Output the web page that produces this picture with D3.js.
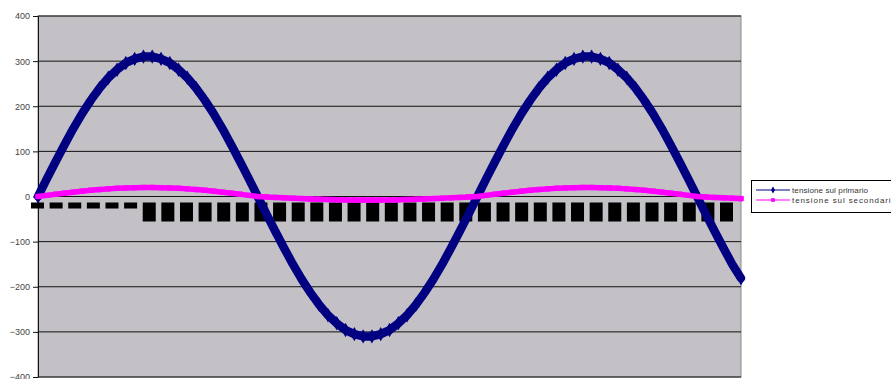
<!DOCTYPE html>
<html>
<head>
<meta charset="utf-8">
<script src="https://cdn.jsdelivr.net/npm/d3@7"></script>
<style>
  body { margin: 0; background: #fff; }
  svg { display: block; font-family: Arial, "Liberation Sans", sans-serif; }
</style>
</head>
<body>
<div id="plot"></div>
<script>
// sample index along the x axis (categories of the Excel line chart)
var samples = d3.range(81);

// tensione sul primario (V)
var primario = [0, 39, 77, 114, 150, 183, 213, 240, 263, 281, 296, 305, 310, 310, 305, 296, 281, 263, 240, 213,
  183, 150, 114, 77, 39, 0, -39, -77, -114, -150, -183, -213, -240, -263, -281, -296, -305, -310, -310, -305,
  -296, -281, -263, -240, -213, -183, -150, -114, -77, -39, 0, 39, 77, 114, 150, 183, 213, 240, 263, 281,
  296, 305, 310, 310, 305, 296, 281, 263, 240, 213, 183, 150, 114, 77, 39, 0, -39, -77, -114, -150, -181];

// tensione sul secondario (V)
var secondario = [0, 2.5, 5, 7.4, 9.6, 11.8, 13.7, 15.4, 16.9, 18.1, 19, 19.6, 20, 20, 19.6, 19, 18.1, 16.9, 15.4, 13.7,
  11.8, 9.6, 7.4, 5, 2.5, 0, -1, -2, -3, -3.9, -4.7, -5.5, -6.2, -6.8, -7.2, -7.6, -7.9, -8, -8, -7.9,
  -7.6, -7.2, -6.8, -6.2, -5.5, -4.7, -3.9, -3, -2, -1, 0, 2.5, 5, 7.4, 9.6, 11.8, 13.7, 15.4, 16.9, 18.1,
  19, 19.6, 20, 20, 19.6, 19, 18.1, 16.9, 15.4, 13.7, 11.8, 9.6, 7.4, 5, 2.5, 0, -1, -2, -3, -3.9, -4.7];

var yTicks = [400, 300, 200, 100, 0, -100, -200, -300, -400];

// the category labels come out as unreadable black blobs in the picture
var xLabelCount = 38;
var shortLabels = 6;

var seriesNames = ["tensione sul primario", "tensione sul secondario"];
var seriesColors = ["#000080", "#ff00ff"];

var width = 891, height = 379;
var plot = { left: 38, right: 741, top: 16, bottom: 377 };

var svg = d3.select("#plot").append("svg")
    .attr("width", width)
    .attr("height", height);

var x = d3.scaleLinear().domain([0, 80]).range([plot.left, plot.right]);
var y = d3.scaleLinear().domain([-400, 400]).range([plot.bottom, plot.top]);
var xLab = d3.scaleLinear().domain([0, xLabelCount - 1]).range([37.5, 726.5]);

// plot area
svg.append("rect")
    .attr("x", plot.left).attr("y", plot.top)
    .attr("width", plot.right - plot.left).attr("height", plot.bottom - plot.top)
    .attr("fill", "#c3c1c5")
    .attr("stroke", "#8a8a8a");

// gridlines
svg.append("g").selectAll("line")
    .data(yTicks)
    .join("line")
    .attr("x1", plot.left).attr("x2", plot.right)
    .attr("y1", d => y(d)).attr("y2", d => y(d))
    .attr("stroke", "#111")
    .attr("stroke-width", 1);

// y axis
var yAxis = svg.append("g")
    .attr("transform", "translate(" + plot.left + ",0)")
    .call(d3.axisLeft(y).tickValues(yTicks).tickSize(5).tickPadding(3).tickSizeOuter(0));
yAxis.select(".domain").attr("stroke", "#111");
yAxis.selectAll(".tick line").attr("stroke", "#111");
yAxis.selectAll("text")
    .attr("font-size", "9px")
    .attr("fill", "#444")
    .attr("font-family", "Arial, 'Liberation Sans', sans-serif");

// x category labels (black blobs just under the zero line)
svg.append("g").selectAll("rect")
    .data(d3.range(xLabelCount))
    .join("rect")
    .attr("x", d => xLab(d) - 6.5)
    .attr("y", y(0) + 6)
    .attr("width", 13)
    .attr("height", d => d < shortLabels ? 6 : 19)
    .attr("fill", "#000");

var line = d3.line().x((d, i) => x(samples[i])).y(d => y(d));

var sets = [primario, secondario];
var widths = [8.5, 5.5];
sets.forEach(function (vals, k) {
  svg.append("path")
      .datum(vals)
      .attr("d", line)
      .attr("fill", "none")
      .attr("stroke", seriesColors[k])
      .attr("stroke-width", widths[k])
      .attr("stroke-linejoin", "round")
      .attr("stroke-linecap", "round");
  svg.append("g").selectAll("path")
      .data(vals)
      .join("path")
      .attr("transform", (d, i) => "translate(" + x(samples[i]) + "," + y(d) + ")")
      .attr("d", d3.symbol().type(k === 0 ? d3.symbolDiamond : d3.symbolSquare).size(k === 0 ? 60 : 28))
      .attr("fill", seriesColors[k]);
});

// legend
var lg = svg.append("g");
lg.append("rect")
    .attr("x", 751.5).attr("y", 180.5)
    .attr("width", 150).attr("height", 32)
    .attr("fill", "#fff")
    .attr("stroke", "#000");
var textLens = [76, 104];
seriesNames.forEach(function (name, k) {
  var ly = 190 + k * 10;
  lg.append("line")
      .attr("x1", 756).attr("x2", 790)
      .attr("y1", ly).attr("y2", ly)
      .attr("stroke", seriesColors[k])
      .attr("stroke-width", 1);
  lg.append("path")
      .attr("transform", "translate(773," + ly + ")")
      .attr("d", d3.symbol().type(k === 0 ? d3.symbolDiamond : d3.symbolSquare).size(14))
      .attr("fill", seriesColors[k]);
  lg.append("text")
      .attr("x", 792).attr("y", ly + 2.5)
      .attr("font-size", "8px")
      .attr("fill", "#333")
      .attr("textLength", textLens[k])
      .attr("lengthAdjust", "spacing")
      .text(name);
});
</script>
</body>
</html>
